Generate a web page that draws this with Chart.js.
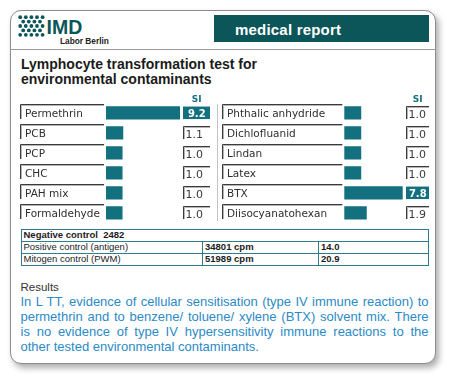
<!DOCTYPE html>
<html><head><meta charset="utf-8">
<script src="https://cdn.jsdelivr.net/npm/chart.js@4.4.1/dist/chart.umd.min.js"></script>
<style>
html,body{margin:0;padding:0;background:#fff;width:461px;height:374px;overflow:hidden;position:relative;font-family:"Liberation Sans",Arial,sans-serif;}
.abs{position:absolute;white-space:nowrap;}
#card{position:absolute;left:10px;top:10px;width:426px;height:354px;box-sizing:border-box;border:1.5px solid #8c8c8c;border-radius:11px;box-shadow:3px 4px 6px rgba(0,0,0,0.32);background:#fff;}
#hdiv{position:absolute;left:10px;top:48.5px;width:426px;height:1.5px;background:#9a9a9a;}
#banner{position:absolute;left:214px;top:15px;width:215px;height:27px;background:#0c5558;}
#banner span{position:absolute;left:21px;top:7.3px;color:#fff;font-weight:bold;font-size:15px;line-height:15px;letter-spacing:0.2px;}
#imd{left:46.5px;top:17.5px;font-size:19.5px;line-height:19px;font-weight:bold;color:#0c5558;}
#labor{left:60px;top:37px;font-size:8.3px;line-height:8px;font-weight:bold;color:#222;}
.title{left:21px;font-size:14px;line-height:15px;font-weight:bold;color:#1b1b1b;}
canvas{position:absolute;}
#vdiv{position:absolute;left:217px;top:104px;width:1px;height:117px;background:#c4c4c4;}
#ctrl{position:absolute;left:20.5px;top:229px;width:408px;border-collapse:collapse;font-size:9.5px;color:#1c1c1c;}
#ctrl td{border:1.5px solid #2b7e8e;height:10.9px;line-height:10px;padding:0 2px;white-space:nowrap;}
#results{left:20.5px;top:280.5px;font-size:11.5px;line-height:13px;color:#333;}
.res{position:absolute;left:20.5px;width:408px;font-size:13px;line-height:15px;color:#2b8ac6;text-align:justify;text-align-last:justify;white-space:normal;}
.res.last{text-align-last:left;}
</style></head><body>
<div id="card"></div>
<div id="hdiv"></div>
<svg class="abs" style="left:18px;top:15px" width="27" height="22" id="dots"></svg>
<div class="abs" id="imd">IMD</div>
<div class="abs" id="labor">Labor Berlin</div>
<div id="banner"><span>medical report</span></div>
<div class="abs title" style="top:57px">Lymphocyte transformation test for</div>
<div class="abs title" style="top:72.3px">environmental contaminants</div>
<div id="vdiv"></div>
<canvas id="cl" width="191" height="134" style="left:20px;top:92px"></canvas>
<canvas id="cr" width="208" height="134" style="left:222px;top:92px"></canvas>
<table id="ctrl"><colgroup><col style="width:181.5px"><col style="width:116px"><col></colgroup><tbody id="ctrlBody"></tbody></table>
<div class="abs" id="results">Results</div>
<div id="resText"></div>
<script>
// ---- data ----
const leftLabels = ['Permethrin', 'PCB', 'PCP', 'CHC', 'PAH mix', 'Formaldehyde'];
const leftSI = [9.2, 1.1, 1.0, 1.0, 1.0, 1.0];
const rightLabels = ['Phthalic anhydride', 'Dichlofluanid', 'Lindan', 'Latex', 'BTX', 'Diisocyanatohexan'];
const rightSI = [1.0, 1.0, 1.0, 1.0, 7.8, 1.9];
const siHeader = 'SI';
const controlHeader = 'Negative control  2482';
const controlNames = ['Positive control (antigen)', 'Mitogen control (PWM)'];
const controlCpm = ['34801 cpm', '51989 cpm'];
const controlSI = ['14.0', '20.9'];
const resultLines = [
  'In L TT, evidence of cellular sensitisation (type IV immune reaction) to',
  'permethrin and to benzene/ toluene/ xylene (BTX) solvent mix. There',
  'is no evidence of type IV hypersensitivity immune reactions to the',
  'other tested environmental contaminants.'
];

// ---- static parts ----
(function(){
  const svg = document.getElementById('dots');
  let s = '';
  for (let r = 0; r < 5; r++) {
    const odd = r % 2 === 1;
    const n = odd ? 4 : 5;
    for (let c = 0; c < n; c++) {
      const cx = (odd ? 5.2 : 2.2) + c * 5.6;
      const cy = 2.2 + r * 4.4;
      s += '<circle cx="' + cx + '" cy="' + cy + '" r="1.9" fill="#0c5558"/>';
    }
  }
  svg.innerHTML = s;
  const tb = document.getElementById('ctrlBody');
  let h = '<tr><td colspan="3" style="font-weight:bold">' + controlHeader.replace(/  /g, ' &nbsp;') + '</td></tr>';
  for (let i = 0; i < controlNames.length; i++) {
    h += '<tr><td>' + controlNames[i] + '</td><td style="font-weight:bold">' + controlCpm[i] + '</td><td style="font-weight:bold">' + controlSI[i] + '</td></tr>';
  }
  tb.innerHTML = h;
  const rt = document.getElementById('resText');
  rt.innerHTML = resultLines.map((t, i) => '<div class="res' + (i === resultLines.length - 1 ? ' last' : '') + '" style="top:' + (294 + i * 15) + 'px">' + t + '</div>').join('');
})();

// ---- chart ----
const TEAL = '#12707f';
const HIGH = 3;
const rowDecor = {
  id: 'rowDecor',
  afterDatasetsDraw(chart, args, opts) {
    const ctx = chart.ctx;
    const meta = chart.getDatasetMeta(0);
    const ca = chart.chartArea;
    const labels = chart.data.labels;
    const vals = chart.data.datasets[0].data;
    ctx.save();
    const vx0 = Math.round(ca.right + 3) + 0.5;
    const vx1 = chart.width - 1;
    // SI header
    const b0 = meta.data[0];
    ctx.fillStyle = '#1b6f80';
    ctx.font = 'bold 9px "DejaVu Sans", sans-serif';
    ctx.textAlign = 'center';
    ctx.textBaseline = 'alphabetic';
    ctx.fillText(opts.header, (vx0 + vx1) / 2, b0.y - b0.height / 2 - 4.5);
    meta.data.forEach((bar, i) => {
      const top = Math.round(bar.y - 8.8) + 0.5;
      const bTop = bar.y - bar.height / 2;
      const bBot = bar.y + bar.height / 2;
      const right = bar.base - 2;
      // label box
      ctx.strokeStyle = '#b5b5b5';
      ctx.lineWidth = 1;
      ctx.beginPath();
      ctx.moveTo(1.5, bBot); ctx.lineTo(1.5, top + 1); ctx.lineTo(right, top + 1);
      ctx.stroke();
      ctx.strokeStyle = '#3a3a3a';
      ctx.beginPath();
      ctx.moveTo(0.5, bBot); ctx.lineTo(0.5, top); ctx.lineTo(right, top);
      ctx.stroke();
      ctx.fillStyle = '#2e2e2e';
      ctx.font = '10.5px "DejaVu Sans", sans-serif';
      ctx.textAlign = 'left';
      ctx.fillText(labels[i], 5, top + 12.5);
      // value box
      const v = vals[i];
      const txt = v.toFixed(1);
      if (v >= HIGH) {
        ctx.fillStyle = TEAL;
        ctx.fillRect(vx0 - 0.5, bTop, vx1 - vx0 + 0.5, bBot - bTop);
        ctx.fillStyle = '#fff';
        ctx.font = 'bold 10px "DejaVu Sans", sans-serif';
        ctx.textAlign = 'center';
        ctx.fillText(txt, (vx0 + vx1) / 2, bBot - 2.5);
      } else {
        const t2 = Math.round(bTop - 1) + 0.5;
        ctx.strokeStyle = '#b5b5b5';
        ctx.beginPath();
        ctx.moveTo(vx0 + 1, bBot); ctx.lineTo(vx0 + 1, t2 + 1); ctx.lineTo(vx1, t2 + 1);
        ctx.stroke();
        ctx.strokeStyle = '#3a3a3a';
        ctx.beginPath();
        ctx.moveTo(vx0, bBot); ctx.lineTo(vx0, t2); ctx.lineTo(vx1, t2);
        ctx.stroke();
        ctx.fillStyle = '#3a3a3a';
        ctx.font = '11px "DejaVu Sans", sans-serif';
        ctx.textAlign = 'left';
        ctx.fillText(txt, vx0 + 2, bBot - 1);
      }
    });
    ctx.restore();
  }
};

function makeChart(id, labels, values, minV, padLeft, padRight) {
  return new Chart(document.getElementById(id), {
    type: 'bar',
    data: {
      labels: labels,
      datasets: [{
        data: values,
        backgroundColor: TEAL,
        borderWidth: 0,
        barThickness: 12.5,
        base: minV
      }]
    },
    options: {
      indexAxis: 'y',
      responsive: false,
      animation: false,
      layout: { padding: { left: padLeft, right: padRight, top: 10.8, bottom: 3.2 } },
      scales: {
        x: { display: false, min: minV, max: Math.max.apply(null, values) },
        y: { display: false, offset: true }
      },
      plugins: {
        legend: { display: false },
        tooltip: { enabled: false },
        rowDecor: { header: siHeader }
      }
    },
    plugins: [rowDecor]
  });
}
makeChart('cl', leftLabels, leftSI, -1.3, 86, 31);
makeChart('cr', rightLabels, rightSI, -1.7, 122.3, 27.3);
</script>
</body></html>
